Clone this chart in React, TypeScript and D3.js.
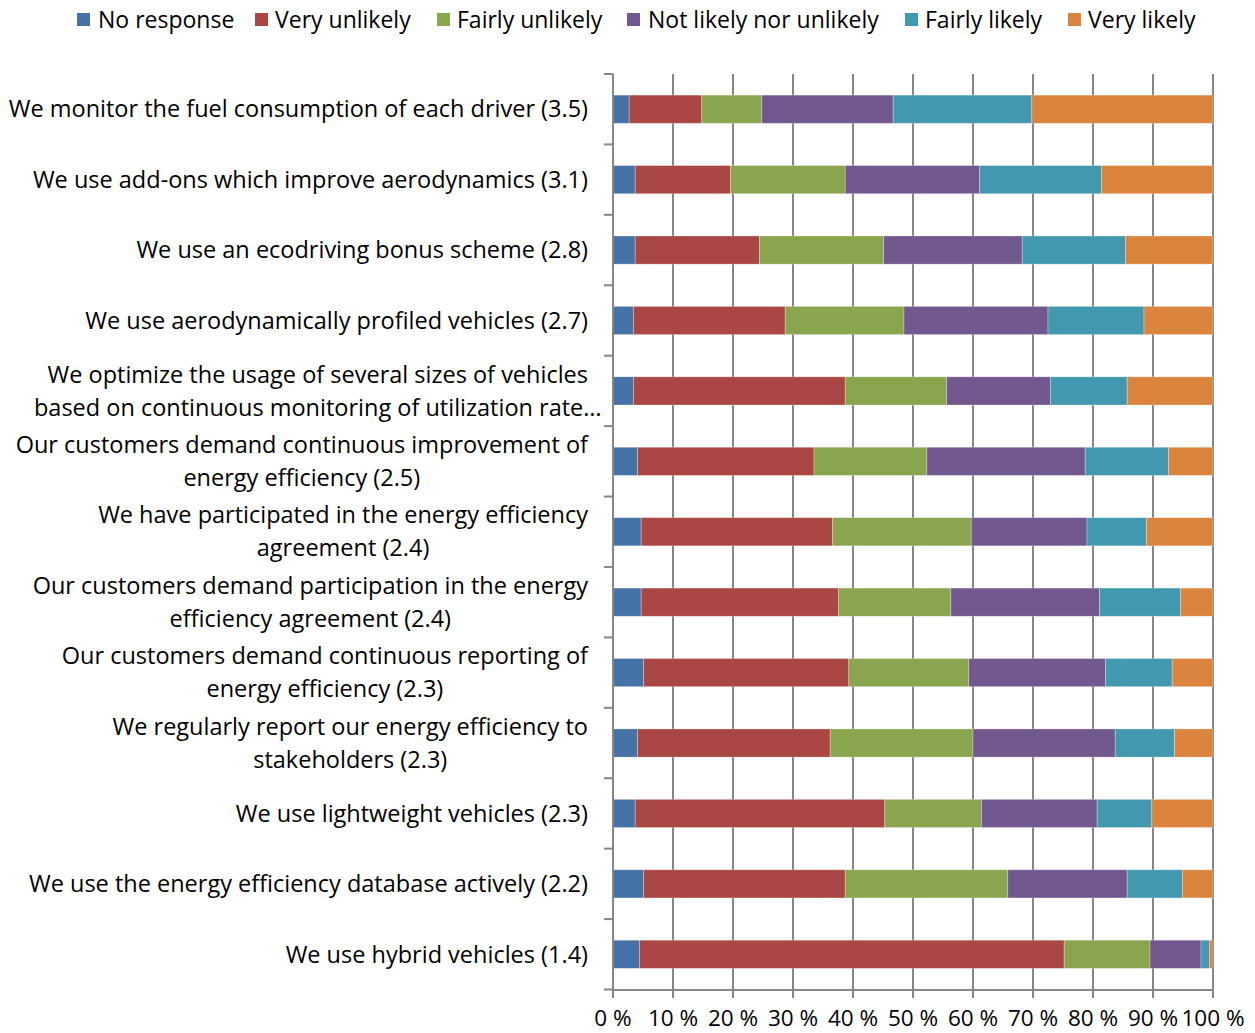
import React from "react";
import * as d3 from "d3";

const categories: string[] = [
  "We monitor the fuel consumption of each driver (3.5)",
  "We use add-ons which improve aerodynamics (3.1)",
  "We use an ecodriving bonus scheme (2.8)",
  "We use aerodynamically profiled vehicles (2.7)",
  "We optimize the usage of several sizes of vehicles\nbased on continuous monitoring of utilization rate…",
  "Our customers demand continuous improvement of\nenergy efficiency (2.5)",
  "We have participated in the energy efficiency\nagreement (2.4)",
  "Our customers demand participation in the energy\nefficiency agreement (2.4)",
  "Our customers demand continuous reporting of\nenergy efficiency (2.3)",
  "We regularly report our energy efficiency to\nstakeholders (2.3)",
  "We use lightweight vehicles (2.3)",
  "We use the energy efficiency database actively (2.2)",
  "We use hybrid vehicles (1.4)",
];

const seriesNames: string[] = [
  "No response",
  "Very unlikely",
  "Fairly unlikely",
  "Not likely nor unlikely",
  "Fairly likely",
  "Very likely",
];

const seriesColors: string[] = ["#4572A7", "#AA4643", "#89A54E", "#71588F", "#4198AF", "#DB843D"];

const noResponse: number[] = [2.7, 3.7, 3.7, 3.4, 3.4, 4.1, 4.7, 4.7, 5.1, 4.1, 3.7, 5.1, 4.4];
const veryUnlikely: number[] = [12.1, 15.9, 20.7, 25.3, 35.3, 29.4, 31.9, 32.9, 34.2, 32.1, 41.6, 33.6, 70.8];
const fairlyUnlikely: number[] = [10.0, 19.1, 20.7, 19.8, 16.9, 18.8, 23.1, 18.7, 20.0, 23.8, 16.1, 27.1, 14.3];
const neutral: number[] = [21.9, 22.4, 23.1, 24.0, 17.3, 26.4, 19.3, 24.8, 22.8, 23.7, 19.3, 19.9, 8.5];
const fairlyLikely: number[] = [23.1, 20.3, 17.2, 16.0, 12.8, 13.9, 9.9, 13.5, 11.1, 9.9, 9.1, 9.2, 1.4];
const veryLikely: number[] = [30.2, 18.6, 14.6, 11.5, 14.3, 7.4, 11.1, 5.4, 6.8, 6.4, 10.2, 5.1, 0.6];

const xTicks: number[] = [0, 10, 20, 30, 40, 50, 60, 70, 80, 90, 100];

const FONT = "'Open Sans', sans-serif";

function measure(text: string, size: number): number {
  const c = document.createElement("canvas").getContext("2d");
  if (!c) return text.length * size * 0.5;
  c.font = `${size}px 'Open Sans'`;
  return c.measureText(text).width;
}

export default function App() {
  const W = 1255, H = 1033;
  const x = d3.scaleLinear().domain([0, 100]).range([613, 1213]);
  const y = d3.scaleBand<string>().domain(categories).range([74, 989.5]).paddingInner(0.6).paddingOuter(0.3);
  const bandStep = y.step();

  const table = categories.map((c, i) => {
    const vals = [noResponse[i], veryUnlikely[i], fairlyUnlikely[i], neutral[i], fairlyLikely[i], veryLikely[i]];
    const total = d3.sum(vals);
    const obj: any = { cat: c };
    seriesNames.forEach((s, j) => (obj[s] = (vals[j] / total) * 100));
    return obj;
  });
  const stacked = d3.stack<any>().keys(seriesNames)(table);

  const labelSize = 23.5;
  const legendSize = 23;
  const tickSize = 22.5;
  const labelRight = 588;

  const legendItems = [
    { sx: 77, tx: 98 },
    { sx: 255, tx: 275 },
    { sx: 437, tx: 457 },
    { sx: 627, tx: 648 },
    { sx: 905, tx: 925 },
    { sx: 1068, tx: 1088 },
  ];

  const boundaries = d3.range(categories.length + 1).map((k) => 74 + k * bandStep);

  return (
    <svg width={W} height={H} style={{ position: "absolute", left: 0, top: 0, background: "#fff" }} fontFamily={FONT}>
      {/* legend */}
      {seriesNames.map((s, j) => (
        <g key={s}>
          <rect x={legendItems[j].sx} y={13} width={13} height={13} fill={seriesColors[j]} />
          <text x={legendItems[j].tx} y={20} dy="0.35em" fontSize={legendSize} fill="#000">
            {s}
          </text>
        </g>
      ))}

      {/* gridlines */}
      {xTicks.map((t) => (
        <line key={t} x1={x(t)} x2={x(t)} y1={74} y2={990} stroke="#868686" strokeWidth={2} />
      ))}

      {/* bars */}
      {stacked.map((layer, j) => (
        <g key={layer.key} fill={seriesColors[j]}>
          {layer.map((d, i) => (
            <rect
              key={i}
              x={x(d[0])}
              width={Math.max(0, x(d[1]) - x(d[0]))}
              y={y(categories[i])}
              height={y.bandwidth()}
              stroke="rgba(255,255,255,0.35)"
              strokeWidth={0.8}
            />
          ))}
        </g>
      ))}

      {/* left axis */}
      <line x1={613} x2={613} y1={74} y2={990} stroke="#868686" strokeWidth={2} />
      {boundaries.map((b, k) => (
        <line key={k} x1={604} x2={613} y1={b} y2={b} stroke="#868686" strokeWidth={2} />
      ))}

      {/* bottom axis */}
      <line x1={612} x2={1214} y1={990} y2={990} stroke="#868686" strokeWidth={2} />
      {xTicks.map((t) => (
        <g key={t}>
          <line x1={x(t)} x2={x(t)} y1={990} y2={998} stroke="#868686" strokeWidth={2} />
          <text x={x(t)} y={1026} textAnchor="middle" fontSize={tickSize} fill="#000">
            {`${t} %`}
          </text>
        </g>
      ))}

      {/* category labels */}
      {categories.map((c, i) => {
        const cy = (y(c) as number) + y.bandwidth() / 2;
        const lines = c.split("\n");
        if (lines.length === 1) {
          return (
            <text key={i} x={labelRight} y={cy} dy="0.35em" textAnchor="end" fontSize={labelSize} fill="#000">
              {c}
            </text>
          );
        }
        const w = measure(lines[0], labelSize);
        const cx = labelRight - w / 2;
        return (
          <text key={i} textAnchor="middle" fontSize={labelSize} fill="#000">
            <tspan x={cx} y={cy - 16.5} dy="0.35em">{lines[0]}</tspan>
            <tspan x={cx} y={cy + 16.5} dy="0.35em">{lines[1]}</tspan>
          </text>
        );
      })}
    </svg>
  );
}
